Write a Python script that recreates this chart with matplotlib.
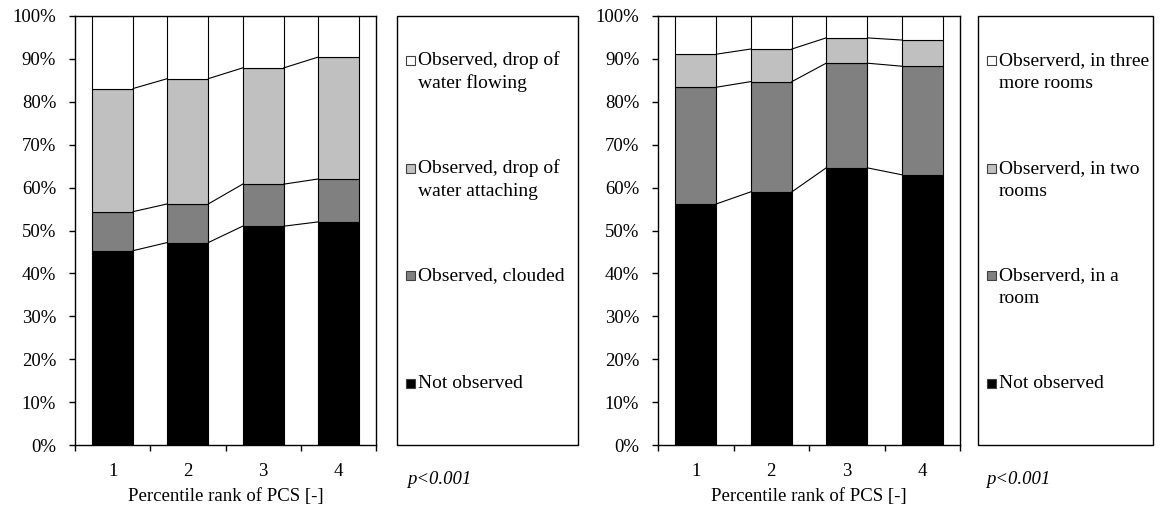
import numpy as np
import matplotlib.pyplot as plt
from matplotlib.patches import Rectangle
from matplotlib.ticker import FixedLocator, FuncFormatter

plt.rcParams['font.family'] = ['Liberation Serif', 'DejaVu Serif']
plt.rcParams['font.size'] = 13.5

ranks = ['1', '2', '3', '4']

# Condensation on windows (%), stacked from the bottom
cond_labels = ['Not observed', 'Observed, clouded',
               'Observed, drop of\nwater attaching', 'Observed, drop of\nwater flowing']
cond_not = [45.3, 47.2, 51.0, 52.0]
cond_clouded = [9.1, 9.0, 9.8, 10.0]
cond_attaching = [28.7, 29.2, 27.1, 28.4]
cond_flowing = [16.9, 14.6, 12.1, 9.6]

# Mould in rooms (%), stacked from the bottom
mould_labels = ['Not observed', 'Observerd, in a\nroom',
                'Observerd, in two\nrooms', 'Observerd, in three\nmore rooms']
mould_not = [56.2, 59.0, 64.6, 63.0]
mould_one = [27.2, 25.7, 24.4, 25.3]
mould_two = [7.7, 7.6, 5.9, 6.1]
mould_three = [8.9, 7.7, 5.1, 5.6]

p_text = 'p<0.001'
colors = ['#000000', '#808080', '#C0C0C0', '#FFFFFF']

W, H = 1166, 508
BAR_W = 0.545
LINE_PX = 23  # legend line pitch in pixels


def fx(px):
    return px / W


def fy(py):
    return 1 - py / H


def stacked(ax, series, xlabel):
    x = np.arange(len(ranks))
    bottom = np.zeros(len(ranks))
    for vals, c in zip(series, colors):
        vals = np.array(vals)
        ax.bar(x, vals, BAR_W, bottom=bottom, color=c,
               edgecolor='black', linewidth=0.8, zorder=2)
        bottom = bottom + vals
        # series lines between neighbouring bars
        if not np.allclose(bottom, 100):
            for i in range(len(x) - 1):
                ax.plot([x[i] + BAR_W / 2, x[i + 1] - BAR_W / 2],
                        [bottom[i], bottom[i + 1]],
                        color='black', linewidth=0.8, zorder=3)

    ax.set_xlim(-0.5, len(ranks) - 0.5)
    ax.set_ylim(0, 100)
    ax.yaxis.set_major_locator(FixedLocator(np.arange(0, 101, 10)))
    ax.yaxis.set_major_formatter(FuncFormatter(lambda v, _: f'{v:.0f}%'))
    ax.tick_params(axis='y', direction='out', length=4.5, width=1.0, pad=9)

    ax.xaxis.set_major_locator(FixedLocator(np.arange(-0.5, len(ranks), 1.0)))
    ax.xaxis.set_major_formatter(FuncFormatter(lambda v, _: ''))
    ax.xaxis.set_minor_locator(FixedLocator(x))
    ax.set_xticklabels(ranks, minor=True)
    ax.tick_params(axis='x', which='major', direction='out', length=4.5, width=1.0)
    ax.tick_params(axis='x', which='minor', length=0, pad=13)
    ax.set_xlabel(xlabel, labelpad=6)
    for s in ax.spines.values():
        s.set_linewidth(1.0)


def legend_box(fig, left, right, labels):
    fig.add_artist(Rectangle((fx(left), fy(445)), fx(right - left), 429 / H,
                             transform=fig.transFigure, facecolor='white',
                             edgecolor='black', linewidth=1.0))
    baselines = [388, 280, 173, 65]
    for lab, c, yb in zip(labels, colors, baselines):
        fig.add_artist(Rectangle((fx(left + 9), fy(yb)), fx(9), 9 / H,
                                 transform=fig.transFigure, facecolor=c,
                                 edgecolor='#404040', linewidth=0.8))
        # draw each line on its own so the first one sits next to the marker
        for k, line in enumerate(lab.split('\n')):
            fig.text(fx(left + 21), fy(yb + k * LINE_PX), line,
                     ha='left', va='baseline', fontsize=14)


fig = plt.figure(figsize=(W / 100, H / 100), dpi=100)
ax1 = fig.add_axes([fx(75), 63 / H, 301 / W, 429 / H])
ax2 = fig.add_axes([fx(658), 63 / H, 302 / W, 429 / H])

stacked(ax1, [cond_not, cond_clouded, cond_attaching, cond_flowing],
        'Percentile rank of PCS [-]')
stacked(ax2, [mould_not, mould_one, mould_two, mould_three],
        'Percentile rank of PCS [-]')

legend_box(fig, 397, 578, cond_labels)
legend_box(fig, 978, 1153, mould_labels)

fig.text(fx(407), fy(480), p_text, style='italic', ha='left', va='center')
fig.text(fx(986), fy(480), p_text, style='italic', ha='left', va='center')

fig.savefig('out.png', dpi=100)
